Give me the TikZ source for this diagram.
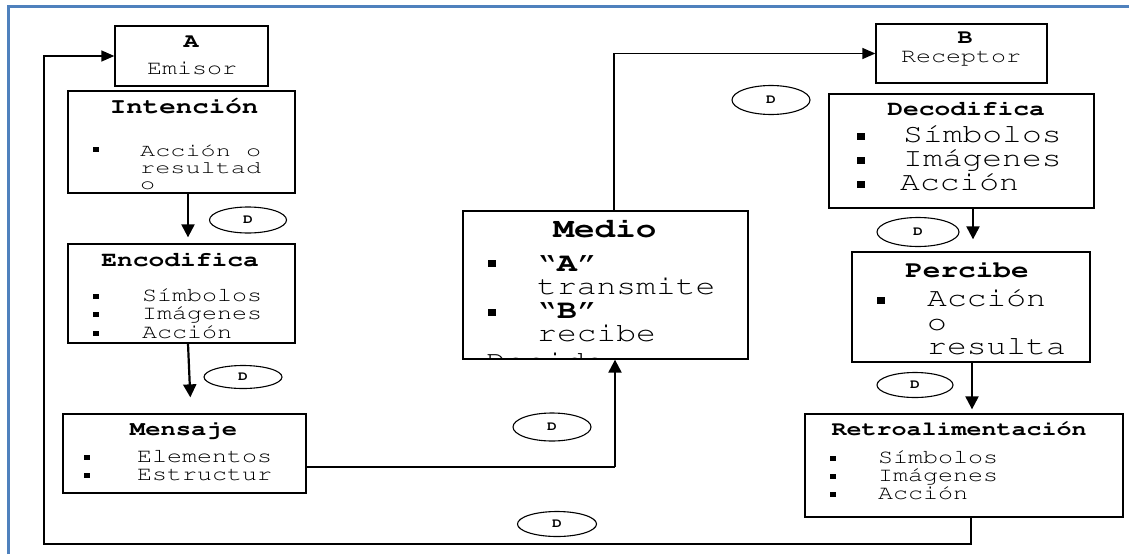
\documentclass[tikz,border=0pt]{standalone}
\usepackage[T1]{fontenc}
\usepackage{graphicx}
\usetikzlibrary{arrows.meta,shapes.geometric}
% Courier (URW Nimbus Mono) set slightly wide
\newcommand\cour{\fontencoding{T1}\fontfamily{pcr}\selectfont}
\newcommand\sx[1]{\scalebox{1.25}[1]{#1}}
\newcommand\sxw[1]{\scalebox{1.4}[1]{#1}}
\newcommand\fs[1]{\fontsize{#1}{#1}\selectfont}
\definecolor{frameblue}{RGB}{79,129,189}

\begin{document}
\begin{tikzpicture}[x=1pt,y=-1pt,
  box/.style={draw, line width=1.3pt, inner sep=0pt},
  lbl/.style={inner sep=0pt, anchor=base west},
  ctr/.style={inner sep=0pt, anchor=base},
  bul/.style={fill=black, inner sep=0pt, minimum width=6pt, minimum height=5pt},
  bigbul/.style={fill=black, inner sep=0pt, minimum width=8pt, minimum height=7pt},
  dlab/.style={draw, ellipse, line width=1.1pt, inner sep=0pt, font=\cour\fs{13}\bfseries},
  arr/.style={-{Triangle[length=13pt,width=13pt]}, line width=2.2pt},
  thinarr/.style={-{Triangle[length=13pt,width=11pt]}, line width=1.4pt},
  conn/.style={line width=1.4pt}
]
\useasboundingbox (0,0) rectangle (1129,554);

% page frame
\draw[frameblue, line width=3pt] (8,554) -- (8,6) -- (1129,6);

% boxes
\node[box, minimum width=153pt, minimum height=60pt]  (A)   at (191.5,56)  {};
\node[box, minimum width=227pt, minimum height=102pt] (Int) at (181.5,142) {};
\node[box, minimum width=227pt, minimum height=99pt]  (Enc) at (181.5,293.5) {};
\node[box, minimum width=243pt, minimum height=79pt]  (Men) at (184.5,453.5) {};
\node[box, minimum width=285pt, minimum height=148pt] (Med) at (605.5,285) {};
\node[box, minimum width=171pt, minimum height=59pt]  (B)   at (961.5,53.5) {};
\node[box, minimum width=265pt, minimum height=114pt] (Dec) at (961.5,151) {};
\node[box, minimum width=238pt, minimum height=110pt] (Per) at (971,307) {};
\node[box, minimum width=318pt, minimum height=103pt] (Ret) at (964,465.5) {};

% A - Emisor
\node[ctr, font=\cour\fs{20}] (tA) at (191,47) {\sx{\bfseries A}};
\node[ctr, font=\cour\fs{20}] (tEm) at (192,74) {\sx{Emisor}};

% Intencion
\node[ctr, font=\cour\fs{22}] (tInt) at (184,113) {\sx{\bfseries Intenci\'on}};
\node[bul] (bInt) at (96,149) {};
\node[lbl, font=\cour\fs{18}] (tInt1) at (140,156) {\sxw{Acci\'on o}};
\node[lbl, font=\cour\fs{18}] (tInt2) at (140,173) {\sxw{resultad}};
\node[lbl, font=\cour\fs{18}] (tInt3) at (140,189) {\sxw{o}};

% Encodifica
\node[ctr, font=\cour\fs{21}] (tEnc) at (180,266) {\sx{\bfseries Encodifica}};
\node[bul] (bEnc1) at (96,296) {};
\node[bul] (bEnc2) at (96,314.5) {};
\node[bul] (bEnc3) at (96,333) {};
\node[lbl, font=\cour\fs{20}] (tEnc1) at (142,301) {\sx{S\'{\i}mbolos}};
\node[lbl, font=\cour\fs{20}] (tEnc2) at (142,319.5) {\sx{Im\'agenes}};
\node[lbl, font=\cour\fs{20}] (tEnc3) at (142,338) {\sx{Acci\'on}};

% Mensaje
\node[ctr, font=\cour\fs{20.4}] (tMen) at (183.5,435) {\sx{\bfseries Mensaje}};
\node[bul] (bMen1) at (87,457) {};
\node[bul] (bMen2) at (87,475) {};
\node[lbl, font=\cour\fs{20}] (tMen1) at (137,462) {\sx{Elementos}};
\node[lbl, font=\cour\fs{20}] (tMen2) at (137,480) {\sx{Estructur}};

% Medio (its last line runs past the box and is cut off)
\node[ctr, font=\cour\fs{27.5}] (tMed) at (605,237) {\sx{\bfseries Medio}};
\node[bigbul] (bMed1) at (492,263) {};
\node[bigbul] (bMed2) at (492,312) {};
\node[lbl, font=\cour\fs{26.4}] (tMed1) at (537,271) {\sx{\textquotedblleft\textbf{A}\textquotedblright}};
\node[lbl, font=\cour\fs{26.4}] (tMed2) at (537,294) {\sx{transmite}};
\node[lbl, font=\cour\fs{26.4}] (tMed3) at (537,318) {\sx{\textquotedblleft\textbf{B}\textquotedblright}};
\node[lbl, font=\cour\fs{26.4}] (tMed4) at (537,341) {\sx{recibe}};
\begin{scope}
  \clip (Med.north west) rectangle (Med.south east);
  \node[lbl, font=\cour\fs{26.4}] (tMed5) at (486,369) {\sx{Decide}};
\end{scope}

% B - Receptor
\node[ctr, font=\cour\fs{20}] (tB) at (965,43) {\sx{\bfseries B}};
\node[ctr, font=\cour\fs{20}] (tRec) at (961,62) {\sx{Receptor}};

% Decodifica
\node[ctr, font=\cour\fs{21}] (tDec) at (966,115) {\sx{\bfseries Decodifica}};
\node[bigbul] (bDec1) at (861,136) {};
\node[bigbul] (bDec2) at (861,160) {};
\node[bigbul] (bDec3) at (861,184) {};
\node[lbl, font=\cour\fs{26.4}] (tDec1) at (903,142) {\sx{S\'{\i}mbolos}};
\node[lbl, font=\cour\fs{26.4}] (tDec2) at (903,166) {\sx{Im\'agenes}};
\node[lbl, font=\cour\fs{26.4}] (tDec3) at (900,190) {\sx{Acci\'on}};

% Percibe
\node[ctr, font=\cour\fs{23.5}] (tPer) at (967,277) {\sx{\bfseries Percibe}};
\node[bigbul] (bPer) at (881,300) {};
\node[lbl, font=\cour\fs{26.4}] (tPer1) at (927,306) {\sx{Acci\'on}};
\node[lbl, font=\cour\fs{26.4}] (tPer2) at (927,330) {\sx{o}};
\node[lbl, font=\cour\fs{26.4}] (tPer3) at (927,354) {\sx{resulta}};

% Retroalimentacion
\node[ctr, font=\cour\fs{20}] (tRet) at (959,435) {\sx{\bfseries Retroalimentaci\'on}};
\node[bul] (bRet1) at (833,458) {};
\node[bul] (bRet2) at (833,476) {};
\node[bul] (bRet3) at (833,494) {};
\node[lbl, font=\cour\fs{20}] (tRet1) at (878,463) {\sx{S\'{\i}mbolos}};
\node[lbl, font=\cour\fs{20}] (tRet2) at (878,481) {\sx{Im\'agenes}};
\node[lbl, font=\cour\fs{20}] (tRet3) at (878,499) {\sx{Acci\'on}};

% D labels
\node[dlab, minimum width=77pt, minimum height=26pt] (d1) at (248,220) {\sx{D}};
\node[dlab, minimum width=78pt, minimum height=23pt] (d2) at (243,377) {\sx{D}};
\node[dlab, minimum width=78pt, minimum height=28pt] (d3) at (552,427) {\sx{D}};
\node[dlab, minimum width=79pt, minimum height=25pt] (d4) at (557,524) {\sx{D}};
\node[dlab, minimum width=78pt, minimum height=29pt] (d5) at (771,100) {\sx{D}};
\node[dlab, minimum width=82pt, minimum height=29pt] (d6) at (918,232) {\sx{D}};
\node[dlab, minimum width=76pt, minimum height=25pt] (d7) at (915,385) {\sx{D}};

% connectors
\coordinate (k1) at (615,467);
\coordinate (fb) at (44,544);
\draw[arr, shorten >=6pt]  ([xshift=6.5pt]Int.south) -- ([xshift=6.5pt]Enc.north);
\draw[arr, shorten >=16pt] ([xshift=6.5pt]Enc.south) -- ([xshift=6.5pt]Men.north);
\draw[conn] ([yshift=-13.5pt]Men.east) -- (k1);
\draw[arr] (k1) -- (Med.south -| k1);
\draw[thinarr] ([xshift=8.5pt]Med.north) |- (B.west);
\draw[arr, shorten >=12pt] ([xshift=11.5pt]Dec.south) -- ([xshift=2pt]Per.north);
\draw[arr, shorten >=4pt]  ([xshift=1pt]Per.south) -- ([xshift=8pt]Ret.north);
\draw[thinarr] ([xshift=7pt]Ret.south) |- (fb) |- (A.west);
\end{tikzpicture}
\end{document}
